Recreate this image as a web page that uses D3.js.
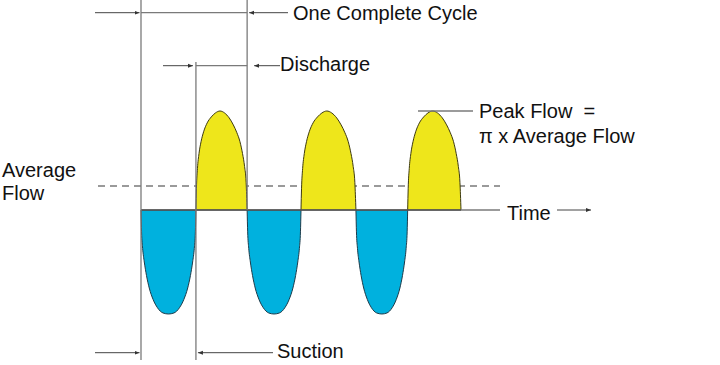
<!DOCTYPE html>
<html>
<head>
<meta charset="utf-8">
<script src="https://cdn.jsdelivr.net/npm/d3@7"></script>
<style>
  html, body { margin: 0; padding: 0; background: #fff; }
  svg { display: block; }
  text { font-family: "Liberation Sans", Arial, sans-serif; fill: #111; }
</style>
</head>
<body>
<svg id="chart" width="720" height="365"></svg>
<script>
// ---- data (time units, flow units) ----
const crossings = [0, 1.03, 1.99, 3.0, 4.03, 5.0, 6.0];
const lobeTypes = ["suction", "discharge", "suction", "discharge", "suction", "discharge"];
const lobePeaks = [-1.04, 0.99, -1.04, 0.99, -1.04, 0.99];
const averageFlow = 0.24;
// lobe shape: [fraction of half-cycle, fraction of peak]
const dischargeProfile = [[0,0],[0.01,0.22],[0.03,0.42],[0.06,0.57],[0.1,0.69],[0.15,0.79],[0.22,0.88],[0.3,0.94],[0.38,0.98],[0.47,1],[0.56,0.98],[0.65,0.93],[0.73,0.86],[0.8,0.78],[0.86,0.69],[0.91,0.57],[0.95,0.44],[0.98,0.28],[1,0]];
const suctionProfile = [[0,0],[0.01,0.21],[0.03,0.37],[0.06,0.5],[0.1,0.63],[0.15,0.75],[0.22,0.86],[0.3,0.94],[0.4,0.99],[0.5,1],[0.6,0.99],[0.7,0.94],[0.78,0.86],[0.85,0.75],[0.9,0.63],[0.94,0.5],[0.97,0.37],[0.99,0.21],[1,0]];
const labels = {
  cycle: "One Complete Cycle",
  discharge: "Discharge",
  suction: "Suction",
  avg: ["Average", "Flow"],
  peak: ["Peak Flow  =", "\u03C0 x Average Flow"],
  time: "Time"
};

const svg = d3.select("#chart");
const x = d3.scaleLinear().domain([0, 6]).range([141, 461]);
const y = d3.scaleLinear().domain([0, 1]).range([210, 110]);

const colors = { suction: "#00B1DE", discharge: "#EEE61B" };
const strokes = { suction: "#1d3b4a", discharge: "#3d3a10" };
const gray = "#7a7a7a";
const FS = 20;

// arrow marker
const defs = svg.append("defs");
defs.append("marker").attr("id", "ah").attr("viewBox", "0 0 10 10")
  .attr("refX", 10).attr("refY", 5).attr("markerWidth", 5).attr("markerHeight", 5)
  .attr("markerUnits", "userSpaceOnUse").attr("orient", "auto")
  .append("path").attr("d", "M0,1 L10,5 L0,9 Z").attr("fill", "#333");

// dashed average flow line
svg.append("line").attr("x1", 98).attr("x2", 500)
  .attr("y1", y(averageFlow)).attr("y2", y(averageFlow))
  .attr("stroke", gray).attr("stroke-width", 1.3).attr("stroke-dasharray", "7,5");

// lobes
const area = d3.area().x(d => d[0]).y0(y(0)).y1(d => d[1]).curve(d3.curveMonotoneX);
const line = d3.line().x(d => d[0]).y(d => d[1]).curve(d3.curveMonotoneX);
lobeTypes.forEach((type, i) => {
  const t0 = crossings[i], t1 = crossings[i + 1];
  const prof = type === "suction" ? suctionProfile : dischargeProfile;
  const pts = prof.map(p => [x(t0 + p[0] * (t1 - t0)), y(p[1] * lobePeaks[i])]);
  svg.append("path").attr("d", area(pts)).attr("fill", colors[type]);
  svg.append("path").attr("d", line(pts)).attr("fill", "none")
    .attr("stroke", strokes[type]).attr("stroke-width", 1);
});

// time axis
svg.append("line").attr("x1", x(crossings[0])).attr("x2", 500)
  .attr("y1", y(0)).attr("y2", y(0)).attr("stroke", gray).attr("stroke-width", 1.3);
svg.append("line").attr("x1", x(crossings[0])).attr("x2", x(crossings[6]))
  .attr("y1", y(0)).attr("y2", y(0)).attr("stroke", "#333").attr("stroke-width", 1);

// vertical markers
const vline = (xx, y1, y2) => svg.append("line").attr("x1", xx).attr("x2", xx)
  .attr("y1", y1).attr("y2", y2).attr("stroke", gray).attr("stroke-width", 1.3);
vline(x(crossings[0]), 0, 360);
vline(x(crossings[2]), 0, y(0));
vline(x(crossings[1]), 62, 360);

const hline = (x1, x2, yy) => svg.append("line").attr("x1", x1).attr("x2", x2)
  .attr("y1", yy).attr("y2", yy).attr("stroke", gray).attr("stroke-width", 1.3);
const arrow = (x1, x2, yy) => svg.append("line").attr("x1", x1).attr("x2", x2)
  .attr("y1", yy).attr("y2", yy).attr("stroke", "#444").attr("stroke-width", 1)
  .attr("marker-end", "url(#ah)");

// one complete cycle
const yCyc = 12.7;
arrow(95, x(crossings[0]) - 1.5, yCyc);
hline(x(crossings[0]), x(crossings[2]), yCyc);
arrow(288, x(crossings[2]) + 2, yCyc);
svg.append("text").attr("x", 293).attr("y", 20).attr("font-size", FS).text(labels.cycle);

// discharge
const yDis = 65.7;
arrow(163, x(crossings[1]) - 3, yDis);
hline(x(crossings[1]), x(crossings[2]), yDis);
arrow(280, x(crossings[2]) + 7, yDis);
svg.append("text").attr("x", 280).attr("y", 71).attr("font-size", FS).text(labels.discharge);

// suction
const ySuc = 352.7;
arrow(95, x(crossings[0]) - 1.5, ySuc);
arrow(273, x(crossings[1]) + 2, ySuc);
svg.append("text").attr("x", 277).attr("y", 358).attr("font-size", FS).text(labels.suction);

// average flow label
svg.append("text").attr("x", 2).attr("y", 177).attr("font-size", FS).text(labels.avg[0]);
svg.append("text").attr("x", 2).attr("y", 200).attr("font-size", FS).text(labels.avg[1]);

// peak flow
hline(418, 473, y(lobePeaks[5]));
svg.append("text").attr("x", 479).attr("y", 118).attr("font-size", FS)
  .attr("xml:space", "preserve").style("white-space", "pre").text(labels.peak[0]);
svg.append("text").attr("x", 479).attr("y", 143).attr("font-size", FS).text(labels.peak[1]);

// time
svg.append("text").attr("x", 507).attr("y", 220).attr("font-size", FS).text(labels.time);
arrow(557, 591, y(0));
</script>
</body>
</html>
